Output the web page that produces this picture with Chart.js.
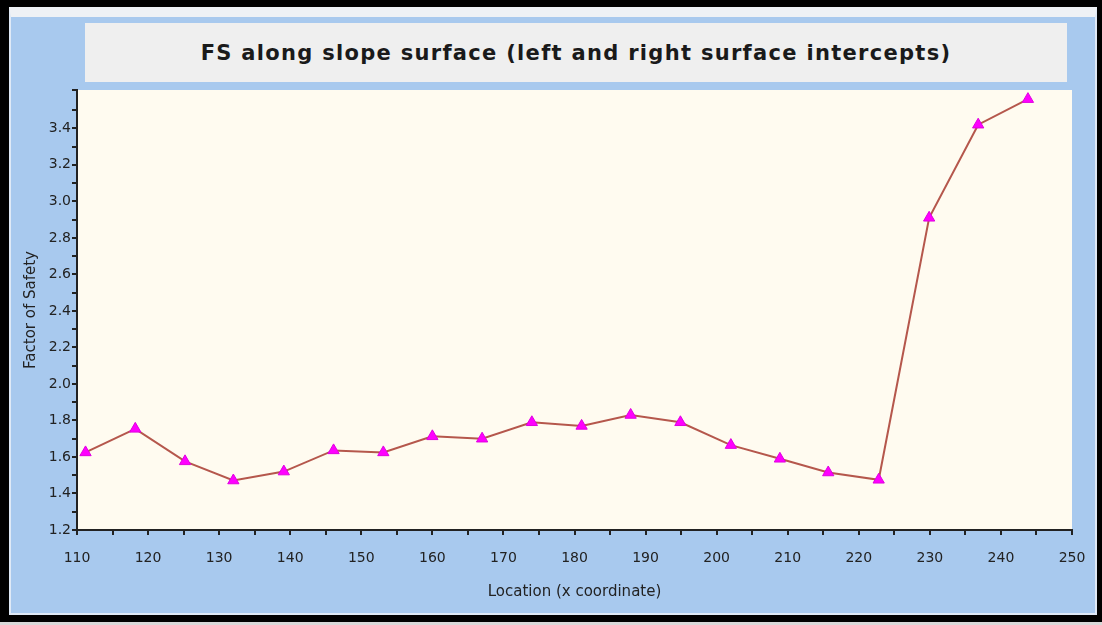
<!DOCTYPE html>
<html>
<head>
<meta charset="utf-8">
<script src="https://cdn.jsdelivr.net/npm/chart.js@4/dist/chart.umd.min.js"></script>
<style>
  html, body { margin: 0; padding: 0; }
  body { width: 1102px; height: 625px; background: #000; position: relative; overflow: hidden; }
  #frame {
    position: absolute; left: 9px; top: 7px; width: 1084px; height: 596px;
    background: #a8c9ee;
    border-top: 10px solid #eef1f5;
    border-left: 2px solid #dfe9f6; border-right: 2px solid #dfe9f6; border-bottom: 2px solid #dfe9f6;
  }
  #bottomStrip { position: absolute; left: 0; top: 622px; width: 1102px; height: 3px; background: #d8d8d8; }
  #titleBox {
    position: absolute; left: 85px; top: 23px; width: 982px; height: 59px;
    background: #efefef;
    font: bold 21px "DejaVu Sans", sans-serif; letter-spacing: 1.3px; color: #1a1a1a;
    display: flex; align-items: center; justify-content: center;
  }
  #wrap { position: absolute; left: 0; top: 0; width: 1102px; height: 625px; }
</style>
</head>
<body>
<div id="frame"></div>
<div id="bottomStrip"></div>
<div id="titleBox">FS along slope surface (left and right surface intercepts)</div>
<div id="wrap"><canvas id="fsChart"></canvas></div>
<script>
// ========================================
// Data
// ========================================

const locations = [111.2, 118.2, 125.2, 132.0, 139.1, 146.1, 153.1, 160.0, 167.0, 174.0,
                   181.0, 187.9, 194.9, 202.0, 208.9, 215.7, 222.8, 229.9, 236.8, 243.8];
const safetyFactors = [1.625, 1.754, 1.576, 1.471, 1.52, 1.636, 1.625, 1.713, 1.70, 1.79,
                       1.77, 1.83, 1.79, 1.665, 1.59, 1.515, 1.475, 2.91, 3.42, 3.56];
const xTickLabels = [110, 120, 130, 140, 150, 160, 170, 180, 190, 200, 210, 220, 230, 240, 250];
const yTickLabels = [1.2, 1.4, 1.6, 1.8, 2.0, 2.2, 2.4, 2.6, 2.8, 3.0, 3.2, 3.4];

const points = locations.map((x, i) => ({ x: x, y: safetyFactors[i] }));

// cream plot background
const plotBg = {
    id: 'plotBg',
    beforeDraw: (chart) => {
        const { ctx, chartArea: a } = chart;
        ctx.save();
        ctx.fillStyle = '#fffbf0';
        ctx.fillRect(a.left, a.top, a.right - a.left, a.bottom - a.top);
        ctx.restore();
    }
};

const tickFont = { family: '"DejaVu Sans", sans-serif', size: 14 };
const titleFont = { family: '"DejaVu Sans", sans-serif', size: 15 };

try {
    new Chart(document.getElementById('fsChart').getContext('2d'), {
        type: 'line',
        data: {
            datasets: [{
                label: 'FS',
                data: points,
                borderColor: '#b5574c',
                borderWidth: 2,
                tension: 0,
                pointStyle: 'triangle',
                pointRadius: 6.5,
                pointBackgroundColor: '#ff00ff',
                pointBorderColor: '#e000e0',
                pointBorderWidth: 1
            }]
        },
        options: {
            responsive: true,
            maintainAspectRatio: false,
            animation: false,
            layout: { padding: { left: 18, right: 30, top: 90, bottom: 20 } },
            plugins: { legend: { display: false }, tooltip: { enabled: false } },
            scales: {
                x: {
                    type: 'linear',
                    min: 110,
                    max: 250,
                    afterFit: (s) => { s.height = 75; },
                    ticks: {
                        stepSize: 5,
                        autoSkip: false,
                        maxRotation: 0,
                        padding: 15,
                        color: '#222',
                        font: tickFont,
                        callback: (v) => xTickLabels.includes(v) ? String(v) : ''
                    },
                    grid: { drawOnChartArea: false, drawTicks: true, tickLength: 5, color: '#222', lineWidth: 2 },
                    border: { color: '#222', width: 2 },
                    title: { display: true, text: 'Location (x coordinate)', color: '#222', font: titleFont, padding: { top: 4, bottom: 4 } }
                },
                y: {
                    min: 1.2,
                    max: 3.61,
                    afterFit: (s) => { s.width = 59; },
                    ticks: {
                        stepSize: 0.1,
                        autoSkip: false,
                        padding: 1,
                        color: '#222',
                        font: tickFont,
                        callback: (v) => {
                            const hit = yTickLabels.find(t => Math.abs(t - v) < 1e-6);
                            return hit !== undefined ? hit.toFixed(1) : '';
                        }
                    },
                    grid: { drawOnChartArea: false, drawTicks: true, tickLength: 5, color: '#222', lineWidth: 2 },
                    border: { color: '#222', width: 2 },
                    title: { display: true, text: 'Factor of Safety', color: '#222', font: titleFont, padding: { top: 4, bottom: 4 } }
                }
            }
        },
        plugins: [plotBg]
    });
} catch (err) {
    console.error(err);
}
</script>
</body>
</html>
